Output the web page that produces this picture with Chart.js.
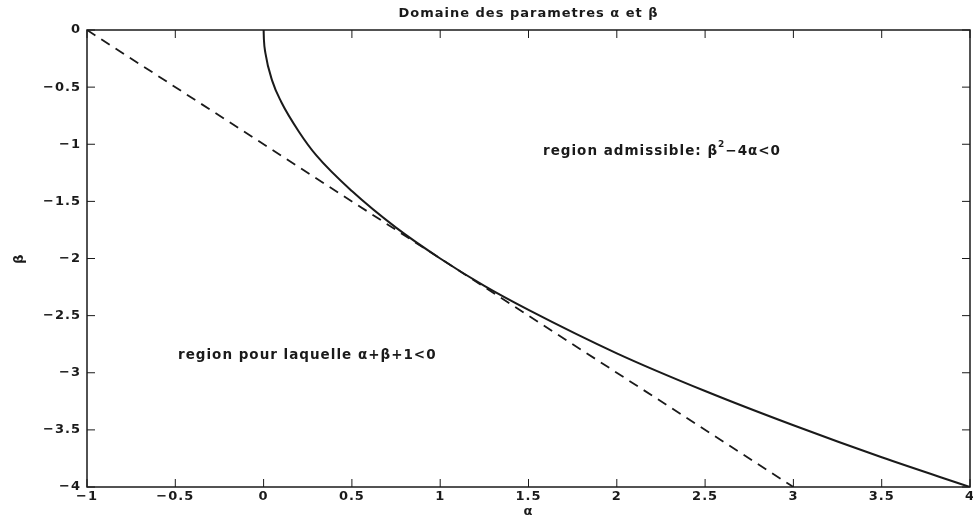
<!DOCTYPE html>
<html>
<head>
<meta charset="utf-8">
<script src="https://cdn.jsdelivr.net/npm/chart.js@4.4.0/dist/chart.umd.min.js"></script>
<style>
  html, body { margin: 0; padding: 0; background: #fff; }
  #wrap { width: 973px; height: 518px; }
</style>
</head>
<body>
<div id="wrap"><canvas id="chart" width="973" height="518"></canvas></div>
<script>
// valeurs
const alphaCourbe = [0, 0.002, 0.01, 0.05, 0.1, 0.2, 0.3, 0.5, 0.75, 1, 1.25, 1.5, 2, 2.5, 3, 3.5, 4];
const betaCourbe  = [0, -0.09, -0.2, -0.45, -0.63, -0.89, -1.1, -1.41, -1.73, -2, -2.24, -2.45, -2.83, -3.16, -3.46, -3.74, -4];
const alphaDroite = [-1, 3];
const betaDroite  = [0, -4];
const xTicks = [-1, -0.5, 0, 0.5, 1, 1.5, 2, 2.5, 3, 3.5, 4];
const yTicks = [0, -0.5, -1, -1.5, -2, -2.5, -3, -3.5, -4];

const famille = '"DejaVu Sans", Arial, sans-serif';
const police = 'bold 13px ' + famille;
const policeTexte = 'bold 13.5px ' + famille;
const couleur = '#1a1a1a';

function points(xs, ys) {
    return xs.map((x, i) => ({ x: x, y: ys[i] }));
}

// espacement des lettres (police large de la figure)
const espacement = {
    id: 'espacement',
    beforeDraw(chart) {
        chart.ctx.letterSpacing = '1px';
    }
};

// ticks vers l'interieur + cadre + textes
const decor = {
    id: 'decor',
    afterDraw(chart) {
        const c = chart.ctx;
        const a = chart.chartArea;
        const sx = chart.scales.x, sy = chart.scales.y;
        c.save();
        c.letterSpacing = '1px';
        c.strokeStyle = couleur;
        c.lineWidth = 1.5;
        c.strokeRect(a.left, a.top, a.right - a.left, a.bottom - a.top);
        c.lineWidth = 1;
        xTicks.forEach(v => {
            const px = sx.getPixelForValue(v);
            c.beginPath();
            c.moveTo(px, a.bottom); c.lineTo(px, a.bottom - 8);
            c.moveTo(px, a.top); c.lineTo(px, a.top + 8);
            c.stroke();
        });
        yTicks.forEach(v => {
            const py = sy.getPixelForValue(v);
            c.beginPath();
            c.moveTo(a.left, py); c.lineTo(a.left + 8, py);
            c.moveTo(a.right, py); c.lineTo(a.right - 8, py);
            c.stroke();
        });

        c.fillStyle = couleur;
        c.font = police;
        c.textBaseline = 'middle';
        c.textAlign = 'center';
        c.fillText('Domaine des parametres \u03b1 et \u03b2', (a.left + a.right) / 2, 14);
        c.fillText('\u03b1', (a.left + a.right) / 2, 512);
        c.save();
        c.translate(20, (a.top + a.bottom) / 2);
        c.rotate(-Math.PI / 2);
        c.fillText('\u03b2', 0, 0);
        c.restore();

        // annotations
        c.font = policeTexte;
        c.textAlign = 'left';
        let x = 543, y = 151;
        const t1 = 'region admissible: \u03b2';
        c.fillText(t1, x, y);
        x += c.measureText(t1).width;
        c.font = 'bold 9px ' + famille;
        c.fillText('2', x, y - 6);
        x += c.measureText('2').width;
        c.font = policeTexte;
        c.fillText('\u22124\u03b1<0', x, y);

        c.fillText('region pour laquelle \u03b1+\u03b2+1<0', 178, 355);
        c.restore();
    }
};

document.addEventListener('DOMContentLoaded', function() {
    const ctx = document.getElementById('chart').getContext('2d');
    new Chart(ctx, {
        type: 'scatter',
        data: {
            datasets: [{
                label: 'beta^2 - 4 alpha = 0',
                data: points(alphaCourbe, betaCourbe),
                showLine: true,
                borderColor: couleur,
                borderWidth: 2,
                pointRadius: 0,
                cubicInterpolationMode: 'monotone'
            }, {
                label: 'alpha + beta + 1 = 0',
                data: points(alphaDroite, betaDroite),
                showLine: true,
                borderColor: couleur,
                borderWidth: 1.8,
                borderDash: [10, 7],
                pointRadius: 0
            }]
        },
        options: {
            responsive: false,
            animation: false,
            layout: { padding: { top: 30, right: 3, left: 0, bottom: 0 } },
            plugins: {
                legend: { display: false },
                tooltip: { enabled: false }
            },
            scales: {
                x: {
                    type: 'linear',
                    min: -1, max: 4,
                    afterBuildTicks: s => { s.ticks = xTicks.map(v => ({ value: v })); },
                    afterFit: s => { s.height = 31; s.paddingLeft = 0; s.paddingRight = 0; },
                    grid: { display: false, drawTicks: false },
                    border: { display: false },
                    ticks: {
                        color: couleur,
                        font: { family: famille, size: 13, weight: 'bold' },
                        padding: 2,
                        maxRotation: 0,
                        callback: v => String(v).replace('-', '\u2212')
                    }
                },
                y: {
                    type: 'linear',
                    min: -4, max: 0,
                    afterBuildTicks: s => { s.ticks = yTicks.map(v => ({ value: v })); },
                    afterFit: s => { s.width = 87; s.paddingTop = 0; s.paddingBottom = 0; },
                    grid: { display: false, drawTicks: false },
                    border: { display: false },
                    ticks: {
                        color: couleur,
                        font: { family: famille, size: 13, weight: 'bold' },
                        padding: 6,
                        callback: v => String(v).replace('-', '\u2212')
                    }
                }
            }
        },
        plugins: [espacement, decor]
    });
});
</script>
</body>
</html>
